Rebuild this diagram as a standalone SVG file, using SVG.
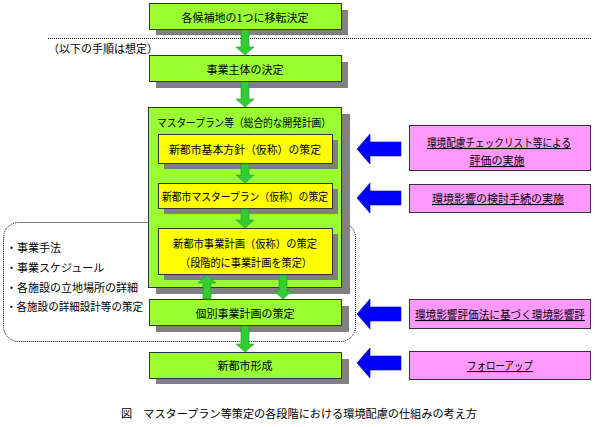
<svg xmlns="http://www.w3.org/2000/svg" width="595" height="427" viewBox="0 0 595 427">
<style>
text{font-family:"Noto Sans CJK JP","Liberation Sans",sans-serif;font-size:11px;fill:#000;dominant-baseline:central}
.c{text-anchor:middle}
.u{text-decoration:underline}
.sh{fill:#808080}
.g{fill:#99ff33;stroke:#333;stroke-width:1}
.y{fill:#ffff00;stroke:#333;stroke-width:1}
.p{fill:#ff99ff;stroke:#333;stroke-width:1}
.ga{fill:#33cc33;stroke:#229922;stroke-width:0.6}
.ba{fill:#0000ff;stroke:#0000aa;stroke-width:0.6}
.dot{fill:none;stroke:#000;stroke-width:1;stroke-dasharray:1 1}
</style>
<defs>
<path id="ba" d="M0,0 L13,-15 V-7 H44 V7 H13 V15 Z"/>
</defs>

<g id="separator">
<line class="dot" x1="48" y1="38.5" x2="591" y2="38.5"/>
<text x="48" y="48">（以下の手順は想定）</text>
</g>

<g id="scope">
<rect class="dot" x="3.5" y="222.5" width="352" height="119" rx="15"/>
<text x="6" y="247">・事業手法</text>
<text x="6" y="267">・事業スケジュール</text>
<text x="6" y="287">・各施設の立地場所の詳細</text>
<text x="6" y="306" textLength="137" lengthAdjust="spacingAndGlyphs">・各施設の詳細設計等の策定</text>
</g>

<g id="n1">
<rect class="sh" x="156" y="10" width="192" height="25"/>
<rect class="g" x="149.5" y="3.5" width="192" height="26"/>
<text class="c" x="245" y="17">各候補地の1つに移転決定</text>
</g>

<g id="n2">
<rect class="sh" x="156" y="62" width="192" height="26"/>
<rect class="g" x="149.5" y="55.5" width="192" height="26"/>
<text class="c" x="245" y="69">事業主体の決定</text>
</g>

<g id="master">
<rect class="sh" x="156" y="114" width="194" height="180"/>
<rect class="g" x="148.5" y="107.5" width="193" height="180"/>
<text x="157" y="122" textLength="174" lengthAdjust="spacingAndGlyphs">マスタープラン等（総合的な開発計画）</text>
</g>

<g id="y1">
<rect class="sh" x="164" y="140" width="174" height="29"/>
<rect class="y" x="158.5" y="134.5" width="174" height="29"/>
<text class="c" x="245" y="149" textLength="152" lengthAdjust="spacingAndGlyphs">新都市基本方針（仮称）の策定</text>
</g>

<g id="y2">
<rect class="sh" x="164" y="189" width="174" height="25"/>
<rect class="y" x="158.5" y="183.5" width="174" height="25"/>
<text class="c" x="245" y="196" textLength="166" lengthAdjust="spacingAndGlyphs">新都市マスタープラン（仮称）の策定</text>
</g>

<g id="y3">
<rect class="sh" x="164" y="234" width="174" height="46"/>
<rect class="y" x="158.5" y="228.5" width="174" height="46"/>
<text class="c" x="245" y="243" textLength="144" lengthAdjust="spacingAndGlyphs">新都市事業計画（仮称）の策定</text>
<text class="c" x="246" y="262" textLength="132" lengthAdjust="spacingAndGlyphs">（段階的に事業計画を策定）</text>
</g>

<g id="n3">
<rect class="sh" x="156" y="306" width="193" height="26"/>
<rect class="g" x="149.5" y="299.5" width="192" height="26"/>
<text class="c" x="245" y="313">個別事業計画の策定</text>
</g>

<g id="n4">
<rect class="sh" x="156" y="359" width="193" height="25"/>
<rect class="g" x="149.5" y="352.5" width="192" height="26"/>
<text class="c" x="245" y="365">新都市形成</text>
</g>

<g id="connectors">
<path class="ga" d="M241,30 H249 V47 H254 L245,55 L236,47 H241 Z"/>
<path class="ga" d="M241,82 H249 V99 H254 L245,107 L236,99 H241 Z"/>
<path class="ga" d="M241,164 H249 V175 H254 L245,183 L236,175 H241 Z"/>
<path class="ga" d="M241,209 H249 V220 H254 L245,228 L236,220 H241 Z"/>
<path class="ga" d="M279,275 H287 V291 H292 L283,299 L274,291 H279 Z"/>
<path class="ga" d="M203,299 H211 V283 H216 L207,275 L198,283 H203 Z"/>
<path class="ga" d="M241,326 H249 V344 H254 L245,352 L236,344 H241 Z"/>
<use href="#ba" class="ba" x="357" y="149"/>
<use href="#ba" class="ba" x="357" y="198"/>
<use href="#ba" class="ba" x="357" y="314"/>
<use href="#ba" class="ba" x="357" y="363"/>
</g>

<g id="r1">
<rect class="p" x="409.5" y="125.5" width="181" height="45"/>
<text class="c u" x="499" y="142" textLength="144" lengthAdjust="spacingAndGlyphs">環境配慮チェックリスト等による</text>
<text class="c u" x="497" y="160">評価の実施</text>
</g>
<g id="r2">
<rect class="p" x="409.5" y="184.5" width="181" height="28"/>
<text class="c u" x="498" y="198">環境影響の検討手続の実施</text>
</g>
<g id="r3">
<rect class="p" x="409.5" y="299.5" width="181" height="29"/>
<text class="c u" x="500" y="314" textLength="170" lengthAdjust="spacingAndGlyphs">環境影響評価法に基づく環境影響評</text>
</g>
<g id="r4">
<rect class="p" x="409.5" y="351.5" width="181" height="28"/>
<text class="c u" x="500" y="365" textLength="66" lengthAdjust="spacingAndGlyphs">フォローアップ</text>
</g>

<g id="caption">
<text x="121" y="413" textLength="356" lengthAdjust="spacingAndGlyphs">図　マスタープラン等策定の各段階における環境配慮の仕組みの考え方</text>
</g>
</svg>
